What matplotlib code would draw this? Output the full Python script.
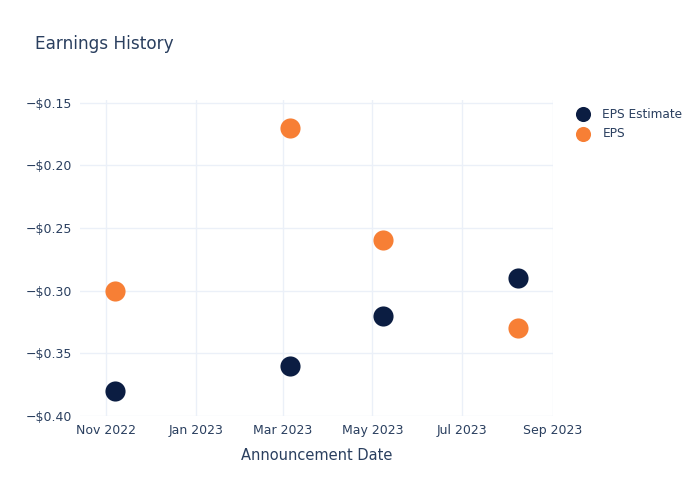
import matplotlib
matplotlib.use("Agg")
import matplotlib.pyplot as plt
import matplotlib.dates as mdates
import pandas as pd

# ── data ─────────────────────────────────────────
dates = pd.to_datetime(["2022-11-07", "2023-03-06", "2023-05-08", "2023-08-08"])
eps_estimate = [-0.38, -0.36, -0.32, -0.29]
eps_actual = [-0.30, -0.17, -0.26, -0.33]
y_ticks = [-0.40, -0.35, -0.30, -0.25, -0.20, -0.15]

TEXT = "#2a3f5f"
GRID = "#ebf0f8"
NAVY = "#0b1d42"
ORANGE = "#f77f35"

fig = plt.figure(figsize=(7, 5), dpi=100)
ax = fig.add_axes([80 / 700, 1 - 416 / 500, (553 - 80) / 700, (416 - 100) / 500])

ax.scatter(dates, eps_estimate, s=210, color=NAVY, zorder=3, label="EPS Estimate", linewidths=0)
ax.scatter(dates, eps_actual, s=210, color=ORANGE, zorder=3, label="EPS", linewidths=0)

ax.set_xlim(pd.Timestamp("2022-10-14"), pd.Timestamp("2023-09-01"))
ax.set_ylim(-0.40, -0.148)

ax.xaxis.set_major_locator(mdates.MonthLocator(bymonth=[1, 3, 5, 7, 9, 11]))
ax.xaxis.set_major_formatter(mdates.DateFormatter("%b %Y"))
ax.set_yticks(y_ticks)
ax.set_yticklabels(["\u2212$%.2f" % abs(v) for v in y_ticks])

for s in ax.spines.values():
    s.set_visible(False)
ax.grid(True, color=GRID, linewidth=1)
ax.set_axisbelow(True)
ax.tick_params(length=0, colors=TEXT, labelsize=9, pad=6)

ax.set_xlabel("Announcement Date", color=TEXT, fontsize=10.5, labelpad=8)
fig.text(35 / 700, 1 - 44 / 500, "Earnings History", color=TEXT, fontsize=12.2, va="center")

leg = ax.legend(loc="upper left", bbox_to_anchor=(1.02, 1.003), frameon=False,
                fontsize=8.7, labelcolor=TEXT, handletextpad=0.6, borderaxespad=0.3,
                labelspacing=0.55, markerscale=0.75)

fig.savefig("out.png", dpi=100)
